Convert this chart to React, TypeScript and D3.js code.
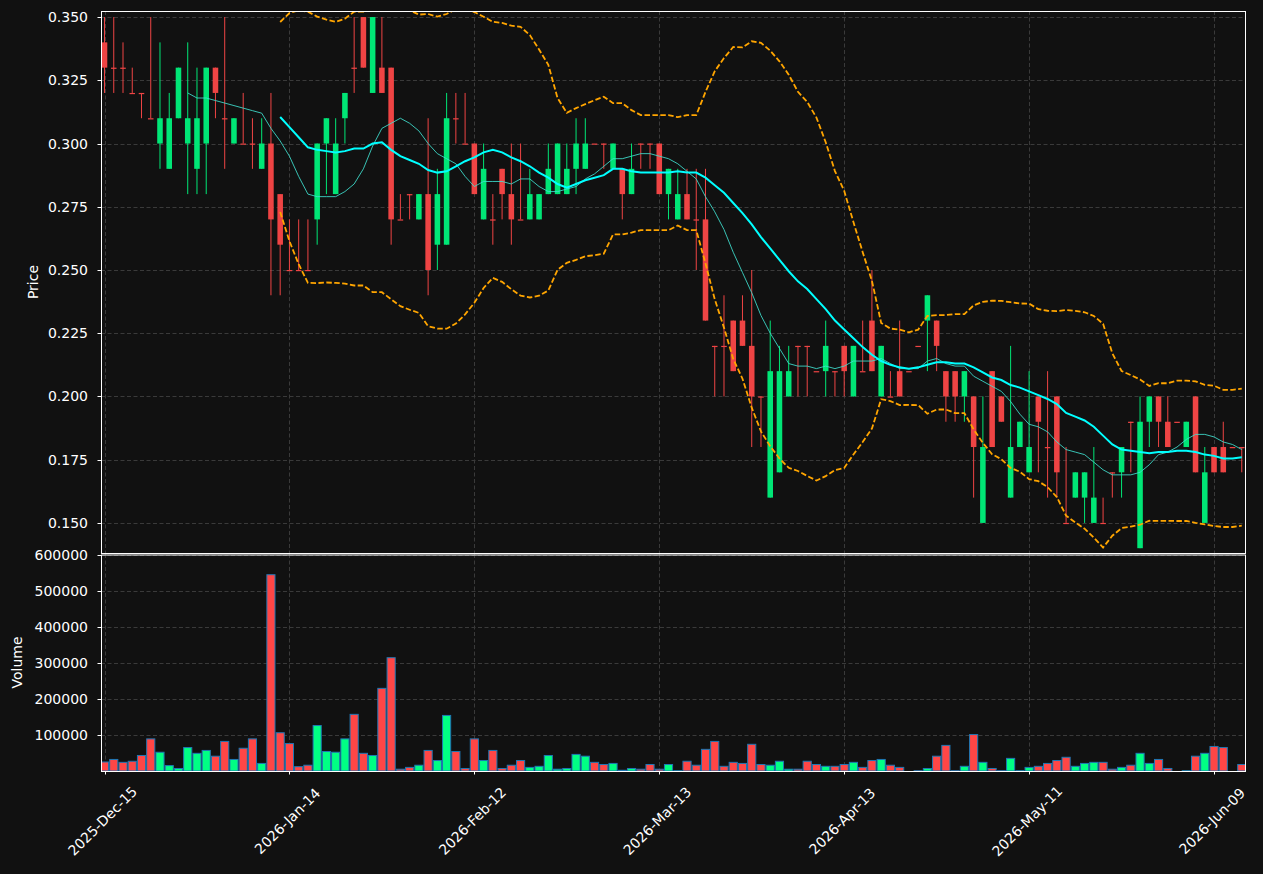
import React, { useEffect } from "react";
import * as d3 from "d3";

// trading-day index of each date tick, and its label
const tickIdx = [0, 20, 40, 60, 80, 100, 120];
const tickLabels = ["2025-Dec-15", "2026-Jan-14", "2026-Feb-12", "2026-Mar-13", "2026-Apr-13", "2026-May-11", "2026-Jun-09"];

const opens = [
  0.34, 0.33, 0.33, 0.32, 0.32, 0.31, 0.30, 0.29, 0.31, 0.30,
  0.29, 0.30, 0.33, 0.31, 0.30, 0.30, 0.30, 0.29, 0.30, 0.28,
  0.25, 0.25, 0.25, 0.27, 0.30, 0.28, 0.31, 0.33, 0.35, 0.32,
  0.33, 0.33, 0.27, 0.28, 0.27, 0.28, 0.26, 0.26, 0.31, 0.30,
  0.30, 0.27, 0.27, 0.29, 0.28, 0.27, 0.27, 0.27, 0.28, 0.28,
  0.28, 0.29, 0.29, 0.30, 0.30, 0.29, 0.29, 0.28, 0.30, 0.30,
  0.30, 0.28, 0.27, 0.28, 0.27, 0.27, 0.22, 0.22, 0.23, 0.23,
  0.22, 0.20, 0.16, 0.17, 0.20, 0.22, 0.22, 0.21, 0.21, 0.21,
  0.22, 0.20, 0.21, 0.23, 0.20, 0.20, 0.21, 0.21, 0.22, 0.23,
  0.23, 0.21, 0.21, 0.20, 0.20, 0.15, 0.21, 0.20, 0.16, 0.18,
  0.17, 0.20, 0.18, 0.20, 0.15, 0.16, 0.16, 0.15, 0.15, 0.17,
  0.17, 0.19, 0.14, 0.19, 0.20, 0.19, 0.19, 0.18, 0.20, 0.15,
  0.18, 0.18, 0.18, 0.18,
];
const highs = [
  0.35, 0.35, 0.34, 0.33, 0.32, 0.35, 0.34, 0.32, 0.33, 0.34,
  0.33, 0.33, 0.33, 0.35, 0.31, 0.32, 0.31, 0.31, 0.32, 0.28,
  0.27, 0.27, 0.27, 0.30, 0.31, 0.31, 0.32, 0.35, 0.35, 0.35,
  0.35, 0.33, 0.28, 0.28, 0.28, 0.31, 0.29, 0.32, 0.32, 0.32,
  0.30, 0.30, 0.28, 0.29, 0.30, 0.30, 0.29, 0.28, 0.30, 0.30,
  0.30, 0.31, 0.31, 0.30, 0.30, 0.30, 0.29, 0.30, 0.30, 0.30,
  0.30, 0.29, 0.29, 0.29, 0.29, 0.29, 0.22, 0.24, 0.23, 0.24,
  0.25, 0.20, 0.23, 0.22, 0.22, 0.22, 0.22, 0.21, 0.23, 0.21,
  0.22, 0.22, 0.23, 0.25, 0.22, 0.21, 0.23, 0.21, 0.22, 0.24,
  0.23, 0.21, 0.21, 0.21, 0.20, 0.20, 0.21, 0.20, 0.22, 0.19,
  0.21, 0.20, 0.21, 0.20, 0.18, 0.17, 0.17, 0.18, 0.16, 0.17,
  0.18, 0.19, 0.20, 0.20, 0.20, 0.20, 0.19, 0.19, 0.20, 0.18,
  0.18, 0.19, 0.18, 0.18,
];
const lows = [
  0.32, 0.32, 0.32, 0.32, 0.31, 0.31, 0.29, 0.29, 0.31, 0.28,
  0.28, 0.28, 0.31, 0.29, 0.30, 0.30, 0.29, 0.29, 0.24, 0.24,
  0.25, 0.25, 0.25, 0.26, 0.28, 0.28, 0.30, 0.32, 0.33, 0.32,
  0.32, 0.26, 0.27, 0.27, 0.27, 0.24, 0.25, 0.26, 0.30, 0.30,
  0.28, 0.27, 0.26, 0.27, 0.26, 0.27, 0.27, 0.27, 0.28, 0.28,
  0.28, 0.28, 0.29, 0.30, 0.29, 0.29, 0.27, 0.28, 0.29, 0.29,
  0.28, 0.27, 0.27, 0.27, 0.25, 0.23, 0.20, 0.20, 0.21, 0.22,
  0.18, 0.18, 0.16, 0.17, 0.20, 0.20, 0.20, 0.21, 0.20, 0.20,
  0.20, 0.20, 0.21, 0.21, 0.20, 0.20, 0.20, 0.21, 0.22, 0.21,
  0.21, 0.19, 0.19, 0.19, 0.16, 0.15, 0.18, 0.19, 0.16, 0.18,
  0.17, 0.17, 0.16, 0.16, 0.15, 0.16, 0.15, 0.15, 0.15, 0.16,
  0.16, 0.17, 0.14, 0.18, 0.18, 0.18, 0.19, 0.18, 0.17, 0.15,
  0.17, 0.17, 0.18, 0.17,
];
const closes = [
  0.33, 0.33, 0.33, 0.32, 0.32, 0.31, 0.31, 0.31, 0.33, 0.31,
  0.31, 0.33, 0.32, 0.31, 0.31, 0.30, 0.30, 0.30, 0.27, 0.26,
  0.25, 0.25, 0.25, 0.30, 0.31, 0.30, 0.32, 0.33, 0.33, 0.35,
  0.32, 0.27, 0.27, 0.28, 0.28, 0.25, 0.28, 0.31, 0.31, 0.30,
  0.28, 0.29, 0.27, 0.28, 0.27, 0.27, 0.28, 0.28, 0.29, 0.30,
  0.29, 0.30, 0.30, 0.30, 0.30, 0.30, 0.28, 0.29, 0.30, 0.30,
  0.28, 0.29, 0.28, 0.27, 0.27, 0.23, 0.22, 0.22, 0.21, 0.22,
  0.20, 0.20, 0.21, 0.21, 0.21, 0.22, 0.22, 0.21, 0.22, 0.21,
  0.21, 0.22, 0.21, 0.21, 0.22, 0.20, 0.20, 0.21, 0.22, 0.24,
  0.22, 0.20, 0.20, 0.21, 0.18, 0.18, 0.18, 0.19, 0.18, 0.19,
  0.18, 0.19, 0.18, 0.17, 0.15, 0.17, 0.17, 0.16, 0.15, 0.17,
  0.18, 0.19, 0.19, 0.20, 0.19, 0.18, 0.19, 0.19, 0.17, 0.17,
  0.17, 0.17, 0.18, 0.18,
];
const volumes = [
  25000, 32000, 24000, 27000, 43000, 89000, 52000, 15000, 7000, 65000,
  49000, 57000, 41000, 82000, 32000, 63000, 89000, 21000, 544000, 106000,
  76000, 12000, 16000, 126000, 54000, 52000, 89000, 157000, 49000, 43000,
  229000, 314000, 5000, 10000, 16000, 57000, 29000, 154000, 54000, 7000,
  89000, 29000, 57000, 7000, 16000, 29000, 10000, 13000, 43000, 5000,
  7000, 46000, 41000, 24000, 18000, 21000, 2000, 7000, 5000, 18000,
  5000, 18000, 800, 27000, 16000, 60000, 82000, 13000, 24000, 21000,
  74000, 18000, 16000, 27000, 5000, 5000, 27000, 18000, 13000, 13000,
  18000, 24000, 10000, 29000, 32000, 16000, 10000, 0, 800, 7000,
  41000, 71000, 800, 13000, 101000, 24000, 7000, 800, 35000, 800,
  10000, 13000, 21000, 29000, 38000, 13000, 21000, 24000, 24000, 5000,
  10000, 16000, 49000, 21000, 32000, 7000, 0, 800, 41000, 49000,
  68000, 65000, 0, 18000,
];

const priceTicks = [0.15, 0.175, 0.2, 0.225, 0.25, 0.275, 0.3, 0.325, 0.35];
const volTicks = [100000, 200000, 300000, 400000, 500000, 600000];

const W = 1263;
const H = 874;
const L = 101;
const R = 1245;
const pTop = 11;
const pBot = 553;
const vTop = 554;
const vBot = 771;

const upC = "#00e676";
const dnC = "#ef4444";
const upV = "#00ff84";
const dnV = "#ff4646";
const gridC = "#3a3a3a";
const font = "DejaVu Sans, sans-serif";

// rolling window over closes
function rolling(n: number, f: (w: number[]) => number) {
  const out: [number, number][] = [];
  for (let i = n - 1; i < closes.length; i++) out.push([i, f(closes.slice(i - n + 1, i + 1))]);
  return out;
}

export default function App() {
  useEffect(() => {
    document.body.style.margin = "0";
    document.body.style.background = "#111111";
  }, []);

  const n = closes.length;
  const x = d3.scaleLinear().domain([-0.38, n - 0.65]).range([L, R]);
  const y = d3.scaleLinear().domain([0.1381, 0.3524]).range([pBot, pTop]);
  const yv = d3.scaleLinear().domain([0, 600000]).range([vBot, vTop + 0.5]);

  const ma10 = rolling(10, (w) => d3.mean(w)!);
  const ma20 = rolling(20, (w) => d3.mean(w)!);
  const bbUp = rolling(20, (w) => d3.mean(w)! + 2 * d3.deviation(w)!);
  const bbLo = rolling(20, (w) => d3.mean(w)! - 2 * d3.deviation(w)!);

  const line = d3.line<[number, number]>().x((d) => x(d[0])).y((d) => y(d[1]));

  const bw = 0.6 * (x(1) - x(0));
  const vw = 0.88 * (x(1) - x(0));

  return (
    <svg width={W} height={H} style={{ position: "absolute", left: 0, top: 0, background: "#111111" }} fontFamily={font}>
      <rect x={0} y={0} width={W} height={H} fill="#111111" />
      <defs>
        <clipPath id="pclip">
          <rect x={L} y={pTop} width={R - L} height={pBot - pTop} />
        </clipPath>
        <clipPath id="vclip">
          <rect x={L} y={vTop} width={R - L} height={vBot - vTop} />
        </clipPath>
      </defs>

      {/* grid */}
      <g stroke={gridC} strokeWidth={1} strokeDasharray="4,2.5">
        {priceTicks.map((t) => (
          <line key={"pg" + t} x1={L} x2={R} y1={Math.round(y(t)) + 0.5} y2={Math.round(y(t)) + 0.5} />
        ))}
        {volTicks.map((t) => (
          <line key={"vg" + t} x1={L} x2={R} y1={Math.round(yv(t)) + 0.5} y2={Math.round(yv(t)) + 0.5} />
        ))}
        {tickIdx.map((t) => (
          <g key={"xg" + t}>
            <line x1={Math.round(x(t)) + 0.5} x2={Math.round(x(t)) + 0.5} y1={pTop} y2={pBot} />
            <line x1={Math.round(x(t)) + 0.5} x2={Math.round(x(t)) + 0.5} y1={vTop} y2={vBot} />
          </g>
        ))}
      </g>

      {/* candles */}
      <g clipPath="url(#pclip)">
        {closes.map((c, i) => {
          const o = opens[i];
          const col = c > o ? upC : dnC;
          const cx = x(i);
          const top = y(Math.max(o, c));
          const bot = y(Math.min(o, c));
          return (
            <g key={"c" + i}>
              <line x1={cx} x2={cx} y1={y(highs[i])} y2={y(lows[i])} stroke={col} strokeWidth={1} />
              <rect x={cx - bw / 2} y={top} width={bw} height={Math.max(bot - top, 1.2)} fill={col} />
            </g>
          );
        })}
        <path d={line(ma10)!} fill="none" stroke="#40e0d0" strokeWidth={1} opacity={0.85} />
        <path d={line(ma20)!} fill="none" stroke="#00ffff" strokeWidth={2} />
        <path d={line(bbUp)!} fill="none" stroke="#ffa500" strokeWidth={1.8} strokeDasharray="5.5,2.4" />
        <path d={line(bbLo)!} fill="none" stroke="#ffa500" strokeWidth={1.8} strokeDasharray="5.5,2.4" />
      </g>

      {/* volume */}
      <g clipPath="url(#vclip)">
        {volumes.map((v, i) => {
          if (v <= 0) return null;
          const col = closes[i] > opens[i] ? upV : dnV;
          const top = yv(v);
          return (
            <rect key={"v" + i} x={x(i) - vw / 2} y={top} width={vw} height={vBot - top} fill={col} stroke="#1f77b4" strokeWidth={1} />
          );
        })}
      </g>

      {/* spines */}
      <rect x={L + 0.5} y={pTop + 0.5} width={R - L} height={pBot - pTop} fill="none" stroke="white" strokeWidth={1} />
      <rect x={L + 0.5} y={vTop + 1} width={R - L} height={vBot - vTop - 0.5} fill="none" stroke="white" strokeWidth={1} />

      {/* axes text */}
      <g fill="white" fontSize={14}>
        {priceTicks.map((t) => (
          <g key={"pt" + t}>
            <line x1={L - 3.5} x2={L} y1={Math.round(y(t)) + 0.5} y2={Math.round(y(t)) + 0.5} stroke="white" />
            <text x={L - 13} y={y(t)} textAnchor="end" dominantBaseline="central">
              {d3.format(".3f")(t)}
            </text>
          </g>
        ))}
        {volTicks.map((t) => (
          <g key={"vt" + t}>
            <line x1={L - 3.5} x2={L} y1={Math.round(yv(t)) + 0.5} y2={Math.round(yv(t)) + 0.5} stroke="white" />
            <text x={L - 13} y={yv(t)} textAnchor="end" dominantBaseline="central">
              {t}
            </text>
          </g>
        ))}
        {tickIdx.map((t, k) => (
          <g key={"xt" + t}>
            <line x1={Math.round(x(t)) + 0.5} x2={Math.round(x(t)) + 0.5} y1={vBot} y2={vBot + 3.5} stroke="white" />
            <text
              transform={`translate(${x(t) - 2},${821}) rotate(-45)`}
              textAnchor="middle"
              dominantBaseline="central"
            >
              {tickLabels[k]}
            </text>
          </g>
        ))}
        <text transform={`translate(33,${(pTop + pBot) / 2}) rotate(-90)`} textAnchor="middle" dominantBaseline="central">
          Price
        </text>
        <text transform={`translate(17,${(vTop + vBot) / 2}) rotate(-90)`} textAnchor="middle" dominantBaseline="central">
          Volume
        </text>
      </g>
    </svg>
  );
}
